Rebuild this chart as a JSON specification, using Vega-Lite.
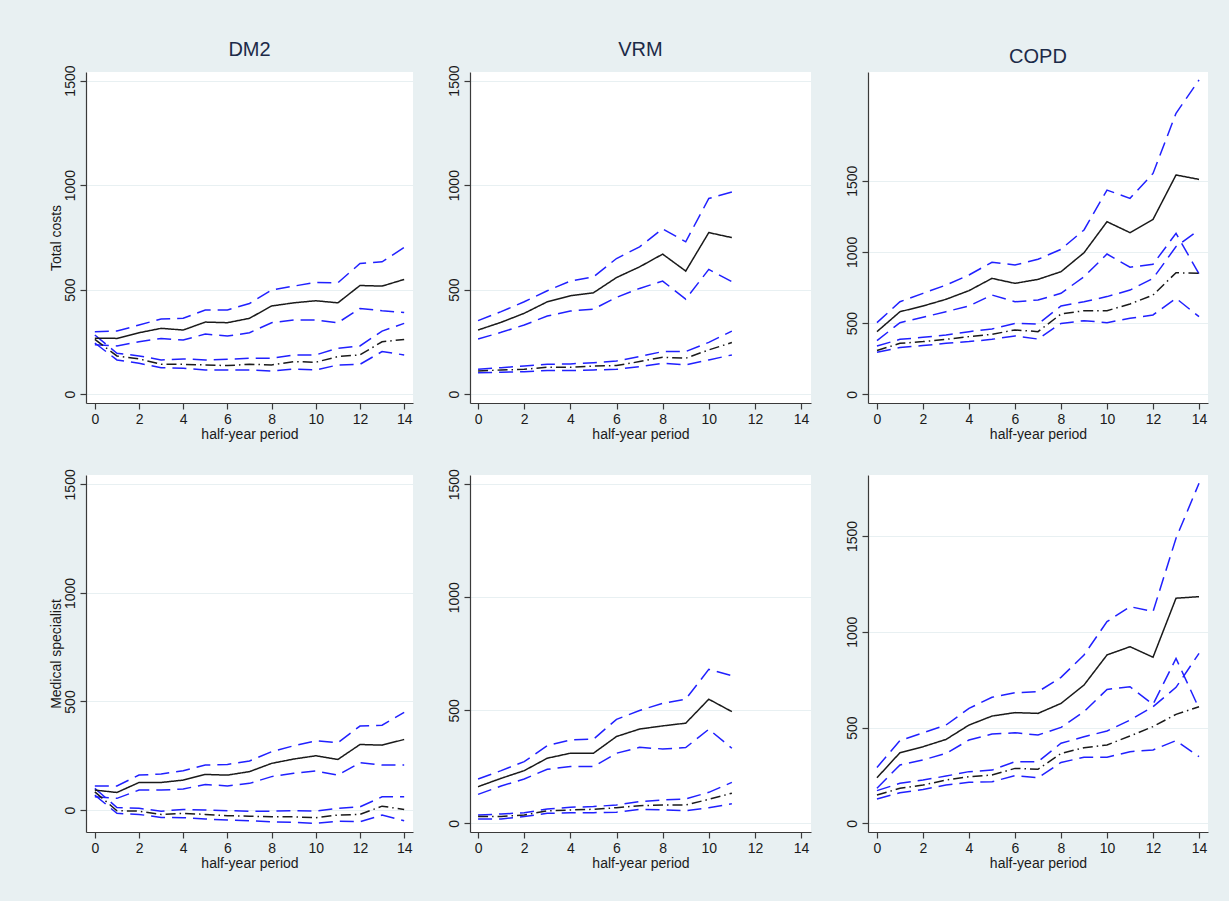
{
"$schema": "https://vega.github.io/schema/vega-lite/v6.json",
"autosize": {"type": "none"},
"padding": {"left": 86, "top": 72, "right": 1143, "bottom": 829},
"background": "#E8F0F2",
"datasets": {"d": [
{"p":1,"t":0,"T":268,"TU":299,"TL":237,"C":262,"CU":283,"CL":245},
{"p":1,"t":1,"T":267,"TU":302,"TL":231,"C":183,"CU":196,"CL":164},
{"p":1,"t":2,"T":294,"TU":331,"TL":251,"C":169,"CU":183,"CL":148},
{"p":1,"t":3,"T":315,"TU":360,"TL":267,"C":143,"CU":164,"CL":127},
{"p":1,"t":4,"T":307,"TU":363,"TL":259,"C":143,"CU":169,"CL":124},
{"p":1,"t":5,"T":345,"TU":403,"TL":288,"C":140,"CU":164,"CL":116},
{"p":1,"t":6,"T":342,"TU":403,"TL":278,"C":137,"CU":167,"CL":116},
{"p":1,"t":7,"T":363,"TU":434,"TL":294,"C":143,"CU":172,"CL":116},
{"p":1,"t":8,"T":422,"TU":498,"TL":342,"C":140,"CU":172,"CL":111},
{"p":1,"t":9,"T":437,"TU":517,"TL":355,"C":156,"CU":188,"CL":121},
{"p":1,"t":10,"T":447,"TU":535,"TL":355,"C":153,"CU":188,"CL":116},
{"p":1,"t":11,"T":437,"TU":533,"TL":342,"C":180,"CU":220,"CL":140},
{"p":1,"t":12,"T":520,"TU":625,"TL":410,"C":188,"CU":231,"CL":143},
{"p":1,"t":13,"T":517,"TU":633,"TL":399,"C":251,"CU":302,"CL":204},
{"p":1,"t":14,"T":549,"TU":702,"TL":391,"C":262,"CU":339,"CL":188},
{"p":2,"t":0,"T":307,"TU":352,"TL":264,"C":111,"CU":119,"CL":103},
{"p":2,"t":1,"T":344,"TU":395,"TL":296,"C":116,"CU":127,"CL":105},
{"p":2,"t":2,"T":387,"TU":442,"TL":331,"C":119,"CU":135,"CL":108},
{"p":2,"t":3,"T":442,"TU":495,"TL":374,"C":129,"CU":143,"CL":113},
{"p":2,"t":4,"T":471,"TU":541,"TL":398,"C":129,"CU":145,"CL":113},
{"p":2,"t":5,"T":485,"TU":561,"TL":407,"C":135,"CU":151,"CL":116},
{"p":2,"t":6,"T":558,"TU":649,"TL":463,"C":137,"CU":159,"CL":119},
{"p":2,"t":7,"T":609,"TU":705,"TL":506,"C":156,"CU":180,"CL":132},
{"p":2,"t":8,"T":670,"TU":791,"TL":541,"C":177,"CU":204,"CL":148},
{"p":2,"t":9,"T":589,"TU":729,"TL":455,"C":172,"CU":204,"CL":140},
{"p":2,"t":10,"T":773,"TU":936,"TL":597,"C":212,"CU":248,"CL":164},
{"p":2,"t":11,"T":749,"TU":967,"TL":538,"C":247,"CU":302,"CL":188},
{"p":3,"t":0,"T":440,"TU":503,"TL":377,"C":307,"CU":339,"CL":295},
{"p":3,"t":1,"T":580,"TU":650,"TL":503,"C":358,"CU":386,"CL":328},
{"p":3,"t":2,"T":620,"TU":709,"TL":541,"C":370,"CU":400,"CL":342},
{"p":3,"t":3,"T":667,"TU":767,"TL":580,"C":386,"CU":417,"CL":358},
{"p":3,"t":4,"T":728,"TU":838,"TL":620,"C":405,"CU":440,"CL":370},
{"p":3,"t":5,"T":814,"TU":927,"TL":697,"C":421,"CU":459,"CL":386},
{"p":3,"t":6,"T":779,"TU":908,"TL":650,"C":452,"CU":498,"CL":410},
{"p":3,"t":7,"T":807,"TU":948,"TL":662,"C":440,"CU":494,"CL":388},
{"p":3,"t":8,"T":861,"TU":1018,"TL":709,"C":564,"CU":620,"CL":498},
{"p":3,"t":9,"T":994,"TU":1154,"TL":826,"C":587,"CU":650,"CL":517},
{"p":3,"t":10,"T":1212,"TU":1434,"TL":985,"C":587,"CU":686,"CL":503},
{"p":3,"t":11,"T":1135,"TU":1376,"TL":892,"C":634,"CU":732,"CL":534},
{"p":3,"t":12,"T":1228,"TU":1551,"TL":913,"C":697,"CU":814,"CL":557},
{"p":3,"t":13,"T":1540,"TU":1973,"TL":1130,"C":854,"CU":1037,"CL":674},
{"p":3,"t":14,"T":1509,"TU":2207,"TL":845,"C":849,"CU":1154,"CL":545},
{"p":4,"t":0,"T":92,"TU":111,"TL":61,"C":84,"CU":100,"CL":69},
{"p":4,"t":1,"T":81,"TU":111,"TL":54,"C":-3,"CU":12,"CL":-15},
{"p":4,"t":2,"T":127,"TU":161,"TL":92,"C":-5,"CU":8,"CL":-20},
{"p":4,"t":3,"T":127,"TU":166,"TL":92,"C":-20,"CU":-5,"CL":-34},
{"p":4,"t":4,"T":138,"TU":181,"TL":97,"C":-15,"CU":3,"CL":-35},
{"p":4,"t":5,"T":164,"TU":207,"TL":118,"C":-20,"CU":0,"CL":-41},
{"p":4,"t":6,"T":161,"TU":210,"TL":111,"C":-26,"CU":-3,"CL":-46},
{"p":4,"t":7,"T":177,"TU":226,"TL":123,"C":-28,"CU":-5,"CL":-49},
{"p":4,"t":8,"T":215,"TU":269,"TL":154,"C":-31,"CU":-5,"CL":-54},
{"p":4,"t":9,"T":235,"TU":296,"TL":169,"C":-31,"CU":-3,"CL":-57},
{"p":4,"t":10,"T":250,"TU":319,"TL":180,"C":-35,"CU":-5,"CL":-61},
{"p":4,"t":11,"T":233,"TU":310,"TL":161,"C":-23,"CU":8,"CL":-51},
{"p":4,"t":12,"T":302,"TU":387,"TL":218,"C":-20,"CU":15,"CL":-54},
{"p":4,"t":13,"T":299,"TU":391,"TL":207,"C":18,"CU":61,"CL":-23},
{"p":4,"t":14,"T":325,"TU":450,"TL":207,"C":3,"CU":61,"CL":-49},
{"p":5,"t":0,"T":162,"TU":196,"TL":128,"C":30,"CU":37,"CL":19},
{"p":5,"t":1,"T":199,"TU":233,"TL":165,"C":30,"CU":41,"CL":19},
{"p":5,"t":2,"T":233,"TU":273,"TL":196,"C":37,"CU":47,"CL":30},
{"p":5,"t":3,"T":288,"TU":344,"TL":239,"C":55,"CU":63,"CL":44},
{"p":5,"t":4,"T":310,"TU":369,"TL":251,"C":59,"CU":71,"CL":47},
{"p":5,"t":5,"T":310,"TU":372,"TL":251,"C":62,"CU":74,"CL":47},
{"p":5,"t":6,"T":384,"TU":460,"TL":310,"C":69,"CU":81,"CL":49},
{"p":5,"t":7,"T":417,"TU":499,"TL":336,"C":78,"CU":96,"CL":62},
{"p":5,"t":8,"T":431,"TU":531,"TL":329,"C":81,"CU":103,"CL":59},
{"p":5,"t":9,"T":443,"TU":549,"TL":335,"C":81,"CU":108,"CL":56},
{"p":5,"t":10,"T":549,"TU":681,"TL":416,"C":106,"CU":137,"CL":69},
{"p":5,"t":11,"T":494,"TU":653,"TL":332,"C":133,"CU":181,"CL":86},
{"p":6,"t":0,"T":238,"TU":292,"TL":183,"C":148,"CU":171,"CL":127},
{"p":6,"t":1,"T":369,"TU":432,"TL":305,"C":183,"CU":209,"CL":160},
{"p":6,"t":2,"T":400,"TU":473,"TL":331,"C":200,"CU":226,"CL":177},
{"p":6,"t":3,"T":438,"TU":513,"TL":365,"C":226,"CU":247,"CL":200},
{"p":6,"t":4,"T":513,"TU":600,"TL":435,"C":244,"CU":270,"CL":214},
{"p":6,"t":5,"T":560,"TU":658,"TL":466,"C":252,"CU":278,"CL":217},
{"p":6,"t":6,"T":578,"TU":682,"TL":473,"C":287,"CU":322,"CL":249},
{"p":6,"t":7,"T":574,"TU":687,"TL":461,"C":282,"CU":322,"CL":238},
{"p":6,"t":8,"T":626,"TU":762,"TL":501,"C":365,"CU":418,"CL":318},
{"p":6,"t":9,"T":722,"TU":879,"TL":583,"C":395,"CU":452,"CL":345},
{"p":6,"t":10,"T":879,"TU":1053,"TL":699,"C":409,"CU":482,"CL":345},
{"p":6,"t":11,"T":922,"TU":1131,"TL":713,"C":456,"CU":539,"CL":374},
{"p":6,"t":12,"T":867,"TU":1105,"TL":621,"C":505,"CU":609,"CL":383},
{"p":6,"t":13,"T":1175,"TU":1488,"TL":861,"C":569,"CU":710,"CL":432},
{"p":6,"t":14,"T":1183,"TU":1775,"TL":600,"C":609,"CU":887,"CL":348}
]},
"config": {
  "font": "Liberation Sans",
  "view": {"stroke": null, "fill": "white"},
  "axis": {"labelFont": "Liberation Sans", "labelFontSize": 14, "labelColor": "#1a1a1a", "titleFont": "Liberation Sans", "titleFontSize": 14, "titleFontWeight": "normal", "titleColor": "#1a1a1a", "domainColor": "#3a3a3a", "tickColor": "#3a3a3a", "tickSize": 6, "domainWidth": 1.2, "tickWidth": 1.2, "labelFlush": false, "labelOverlap": false, "format": "d"},
  "axisX": {"grid": false, "labelPadding": 3, "titlePadding": 1},
  "axisY": {"grid": true, "gridColor": "#E8F0F2", "gridWidth": 1.2, "labelAngle": 270, "labelAlign": "center", "labelBaseline": "bottom", "labelPadding": 3, "titlePadding": 0},
  "title": {"font": "Liberation Sans", "fontSize": 20, "fontWeight": "normal", "color": "#1c2a48", "baseline": "alphabetic", "offset": 5, "frame": "group", "anchor": "middle"},
  "line": {"strokeWidth": 1.5}
},
"columns": 3,
"spacing": {"row": 72, "column": 57},
"bounds": "flush",
"align": "each",
"concat": [
 {"width": 327, "height": 331, "title": "DM2", "data": {"name": "d"},
  "transform": [{"filter": "datum.p == 1"}, {"fold": ["CU", "CL", "TU", "TL", "C", "T"], "as": ["k", "v"]}],
  "mark": "line",
  "encoding": {
   "x": {"field": "t", "type": "quantitative", "scale": {"domain": [-0.4, 14.4], "nice": false, "zero": false}, "axis": {"values": [0,2,4,6,8,10,12,14], "title": "half-year period"}},
   "y": {"field": "v", "type": "quantitative", "scale": {"domain": [-42, 1541], "nice": false, "zero": false}, "axis": {"values": [0,500,1000,1500], "title": "Total costs"}},
   "detail": {"field": "k"},
   "color": {"field": "k", "type": "nominal", "scale": {"domain": ["T","C","TU","TL","CU","CL"], "range": ["#1a1a1a","#1a1a1a","#2020ff","#2020ff","#2020ff","#2020ff"]}, "legend": null},
   "strokeDash": {"field": "k", "type": "nominal", "scale": {"domain": ["T","C","TU","TL","CU","CL"], "range": [[1,0],[10,4,1.5,4],[14,7],[14,7],[14,7],[14,7]]}, "legend": null}
  }},
 {"width": 341, "height": 331, "title": "VRM", "data": {"name": "d"},
  "transform": [{"filter": "datum.p == 2"}, {"fold": ["CU", "CL", "TU", "TL", "C", "T"], "as": ["k", "v"]}],
  "mark": "line",
  "encoding": {
   "x": {"field": "t", "type": "quantitative", "scale": {"domain": [-0.35, 14.43], "nice": false, "zero": false}, "axis": {"values": [0,2,4,6,8,10,12,14], "title": "half-year period"}},
   "y": {"field": "v", "type": "quantitative", "scale": {"domain": [-42, 1541], "nice": false, "zero": false}, "axis": {"values": [0,500,1000,1500], "title": null}},
   "detail": {"field": "k"},
   "color": {"field": "k", "type": "nominal", "scale": {"domain": ["T","C","TU","TL","CU","CL"], "range": ["#1a1a1a","#1a1a1a","#2020ff","#2020ff","#2020ff","#2020ff"]}, "legend": null},
   "strokeDash": {"field": "k", "type": "nominal", "scale": {"domain": ["T","C","TU","TL","CU","CL"], "range": [[1,0],[10,4,1.5,4],[14,7],[14,7],[14,7],[14,7]]}, "legend": null}
  }},
 {"width": 340, "height": 331, "title": "COPD", "data": {"name": "d"},
  "transform": [{"filter": "datum.p == 3"}, {"fold": ["CU", "CL", "TU", "TL", "C", "T"], "as": ["k", "v"]}],
  "mark": "line",
  "encoding": {
   "x": {"field": "t", "type": "quantitative", "scale": {"domain": [-0.39, 14.39], "nice": false, "zero": false}, "axis": {"values": [0,2,4,6,8,10,12,14], "title": "half-year period"}},
   "y": {"field": "v", "type": "quantitative", "scale": {"domain": [-61, 2263], "nice": false, "zero": false}, "axis": {"values": [0,500,1000,1500], "title": null}},
   "detail": {"field": "k"},
   "color": {"field": "k", "type": "nominal", "scale": {"domain": ["T","C","TU","TL","CU","CL"], "range": ["#1a1a1a","#1a1a1a","#2020ff","#2020ff","#2020ff","#2020ff"]}, "legend": null},
   "strokeDash": {"field": "k", "type": "nominal", "scale": {"domain": ["T","C","TU","TL","CU","CL"], "range": [[1,0],[10,4,1.5,4],[14,7],[14,7],[14,7],[14,7]]}, "legend": null}
  }},
 {"width": 327, "height": 357, "data": {"name": "d"},
  "transform": [{"filter": "datum.p == 4"}, {"fold": ["CU", "CL", "TU", "TL", "C", "T"], "as": ["k", "v"]}],
  "mark": "line",
  "encoding": {
   "x": {"field": "t", "type": "quantitative", "scale": {"domain": [-0.4, 14.4], "nice": false, "zero": false}, "axis": {"values": [0,2,4,6,8,10,12,14], "title": "half-year period"}},
   "y": {"field": "v", "type": "quantitative", "scale": {"domain": [-101, 1543], "nice": false, "zero": false}, "axis": {"values": [0,500,1000,1500], "title": "Medical specialist"}},
   "detail": {"field": "k"},
   "color": {"field": "k", "type": "nominal", "scale": {"domain": ["T","C","TU","TL","CU","CL"], "range": ["#1a1a1a","#1a1a1a","#2020ff","#2020ff","#2020ff","#2020ff"]}, "legend": null},
   "strokeDash": {"field": "k", "type": "nominal", "scale": {"domain": ["T","C","TU","TL","CU","CL"], "range": [[1,0],[10,4,1.5,4],[14,7],[14,7],[14,7],[14,7]]}, "legend": null}
  }},
 {"width": 341, "height": 357, "data": {"name": "d"},
  "transform": [{"filter": "datum.p == 5"}, {"fold": ["CU", "CL", "TU", "TL", "C", "T"], "as": ["k", "v"]}],
  "mark": "line",
  "encoding": {
   "x": {"field": "t", "type": "quantitative", "scale": {"domain": [-0.35, 14.43], "nice": false, "zero": false}, "axis": {"values": [0,2,4,6,8,10,12,14], "title": "half-year period"}},
   "y": {"field": "v", "type": "quantitative", "scale": {"domain": [-38.5, 1541], "nice": false, "zero": false}, "axis": {"values": [0,500,1000,1500], "title": null}},
   "detail": {"field": "k"},
   "color": {"field": "k", "type": "nominal", "scale": {"domain": ["T","C","TU","TL","CU","CL"], "range": ["#1a1a1a","#1a1a1a","#2020ff","#2020ff","#2020ff","#2020ff"]}, "legend": null},
   "strokeDash": {"field": "k", "type": "nominal", "scale": {"domain": ["T","C","TU","TL","CU","CL"], "range": [[1,0],[10,4,1.5,4],[14,7],[14,7],[14,7],[14,7]]}, "legend": null}
  }},
 {"width": 340, "height": 357, "data": {"name": "d"},
  "transform": [{"filter": "datum.p == 6"}, {"fold": ["CU", "CL", "TU", "TL", "C", "T"], "as": ["k", "v"]}],
  "mark": "line",
  "encoding": {
   "x": {"field": "t", "type": "quantitative", "scale": {"domain": [-0.39, 14.39], "nice": false, "zero": false}, "axis": {"values": [0,2,4,6,8,10,12,14], "title": "half-year period"}},
   "y": {"field": "v", "type": "quantitative", "scale": {"domain": [-45, 1818], "nice": false, "zero": false}, "axis": {"values": [0,500,1000,1500], "title": null}},
   "detail": {"field": "k"},
   "color": {"field": "k", "type": "nominal", "scale": {"domain": ["T","C","TU","TL","CU","CL"], "range": ["#1a1a1a","#1a1a1a","#2020ff","#2020ff","#2020ff","#2020ff"]}, "legend": null},
   "strokeDash": {"field": "k", "type": "nominal", "scale": {"domain": ["T","C","TU","TL","CU","CL"], "range": [[1,0],[10,4,1.5,4],[14,7],[14,7],[14,7],[14,7]]}, "legend": null}
  }}
]
}
